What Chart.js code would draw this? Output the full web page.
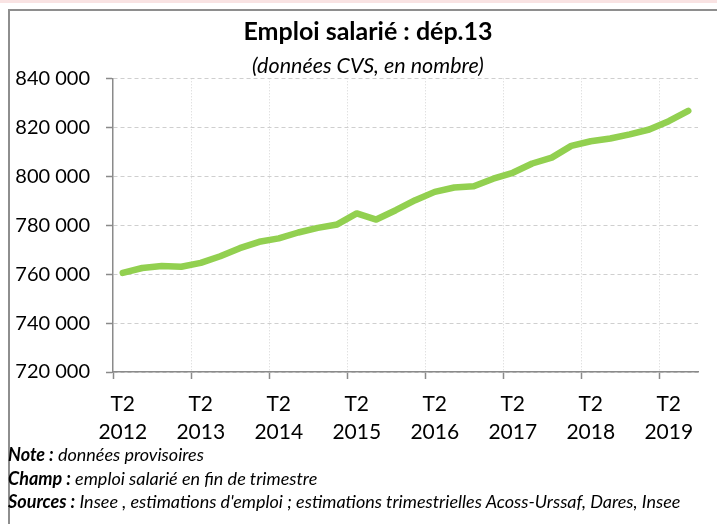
<!DOCTYPE html>
<html lang="fr">
<head>
<meta charset="utf-8">
<title>Emploi salarié : dép.13</title>
<script src="https://cdn.jsdelivr.net/npm/chart.js@4.4.1/dist/chart.umd.min.js"></script>
<style>
  html, body { margin: 0; padding: 0; background: #fff; }
  body { width: 717px; height: 524px; position: relative; overflow: hidden; font-family: Lato, "Open Sans", sans-serif; }
  .strip { position: absolute; left: 0; top: 0; width: 717px; height: 3px; background: #f9e3e3; }
  .frame { position: absolute; left: 8px; top: 9px; width: 720px; height: 530px;
           border-top: 2px solid #8e8e8e; border-left: 2px solid #8e8e8e; }
  #chart { position: absolute; left: 0; top: 0; }
  .notes { position: absolute; left: 8px; top: 443px; font-size: 18px; line-height: 23.5px;
           font-style: italic; color: #000; white-space: nowrap; }
</style>
</head>
<body>
<div class="strip"></div>
<div class="frame"></div>
<canvas id="chart" width="717" height="445"></canvas>
<div class="notes">
  <div><b>Note :</b> données provisoires</div>
  <div><b>Champ :</b> emploi salarié en fin de trimestre</div>
  <div><b>Sources :</b> Insee , estimations d'emploi ; estimations trimestrielles Acoss-Urssaf, Dares, Insee</div>
</div>
<script>
// trimestres, de 2012 T2 à 2019 T3
const quarters = [
  '2012 T2', '2012 T3', '2012 T4',
  '2013 T1', '2013 T2', '2013 T3', '2013 T4',
  '2014 T1', '2014 T2', '2014 T3', '2014 T4',
  '2015 T1', '2015 T2', '2015 T3', '2015 T4',
  '2016 T1', '2016 T2', '2016 T3', '2016 T4',
  '2017 T1', '2017 T2', '2017 T3', '2017 T4',
  '2018 T1', '2018 T2', '2018 T3', '2018 T4',
  '2019 T1', '2019 T2', '2019 T3'
];

// emploi salarié (données CVS)
const employment = [
  760500, 762500, 763300,
  763000, 764600, 767300, 770600,
  773200, 774600, 777000, 778900,
  780300, 784800, 782300, 786100,
  790200, 793600, 795400, 795900,
  799000, 801400, 805200, 807600,
  812400, 814300, 815400, 817100,
  819100, 822500, 826700
];

// seuls les T2 portent un libellé
const labelledQuarter = 'T2';
const yTicks = [720000, 740000, 760000, 780000, 800000, 820000, 840000];

const fmt = v => String(v).replace(/\B(?=(\d{3})+(?!\d))/g, ' ');
const axisGrey = '#8a8a8a';

new Chart(document.getElementById('chart'), {
  type: 'line',
  data: {
    labels: quarters,
    datasets: [{
      data: employment,
      borderColor: '#92d050',
      borderWidth: 6.5,
      borderCapStyle: 'round',
      borderJoinStyle: 'round',
      pointRadius: 0,
      tension: 0,
      fill: false
    }]
  },
  options: {
    responsive: false,
    animation: false,
    // right padding is negative so the titles centre a bit right of the canvas middle
    layout: { padding: { left: 0, right: -19, top: 0, bottom: 0 } },
    plugins: {
      legend: { display: false },
      tooltip: { enabled: false },
      title: {
        display: true,
        text: 'Emploi salarié : dép.13',
        color: '#000',
        font: { family: 'Lato', size: 25, weight: 'bold', lineHeight: 1.2 },
        padding: { top: 17, bottom: 6.6 }
      },
      subtitle: {
        display: true,
        text: '(données CVS, en nombre)',
        color: '#000',
        font: { family: 'Lato', size: 21.5, style: 'italic', lineHeight: 1.15 },
        padding: { top: 0, bottom: 0 }
      }
    },
    scales: {
      x: {
        offset: true,
        afterFit: s => { s.height = 73; },
        grid: {
          offset: true,
          drawOnChartArea: true,
          tickLength: 7,
          color: ctx => (ctx.index % 4 === 0 && ctx.index !== 0) ? '#d4d4d4' : 'rgba(0,0,0,0)',
          tickColor: ctx => (ctx.index % 4 === 0) ? axisGrey : 'rgba(0,0,0,0)',
          tickWidth: 1.5,
          tickBorderDash: []
        },
        border: { color: axisGrey, width: 1.5, dash: [1, 2] },
        ticks: {
          autoSkip: false,
          maxRotation: 0,
          padding: 12,
          color: '#000',
          font: { family: 'Lato', size: 21, lineHeight: 1.3 },
          callback: function (value, index) {
            const parts = quarters[index].split(' ');
            return parts[1] === labelledQuarter ? [parts[1], parts[0]] : '';
          }
        }
      },
      y: {
        min: yTicks[0],
        max: yTicks[yTicks.length - 1],
        afterFit: s => { s.width = 113; },
        afterBuildTicks: s => { s.ticks = yTicks.map(v => ({ value: v })); },
        grid: {
          color: '#cfcfcf',
          tickLength: 7,
          tickColor: axisGrey,
          tickWidth: 1.5,
          tickBorderDash: []
        },
        border: { color: axisGrey, width: 1.5, dash: [4, 3] },
        ticks: {
          padding: 16,
          color: '#000',
          font: { family: 'Lato', size: 20 },
          callback: v => fmt(v)
        }
      },
      // empty right-hand axis: keeps the plot ending at the same place as the reference
      yRight: {
        position: 'right',
        display: true,
        afterFit: s => { s.width = 38; },
        grid: { drawOnChartArea: false, drawTicks: false },
        border: { display: false },
        ticks: { display: false }
      }
    }
  }
});
</script>
</body>
</html>
